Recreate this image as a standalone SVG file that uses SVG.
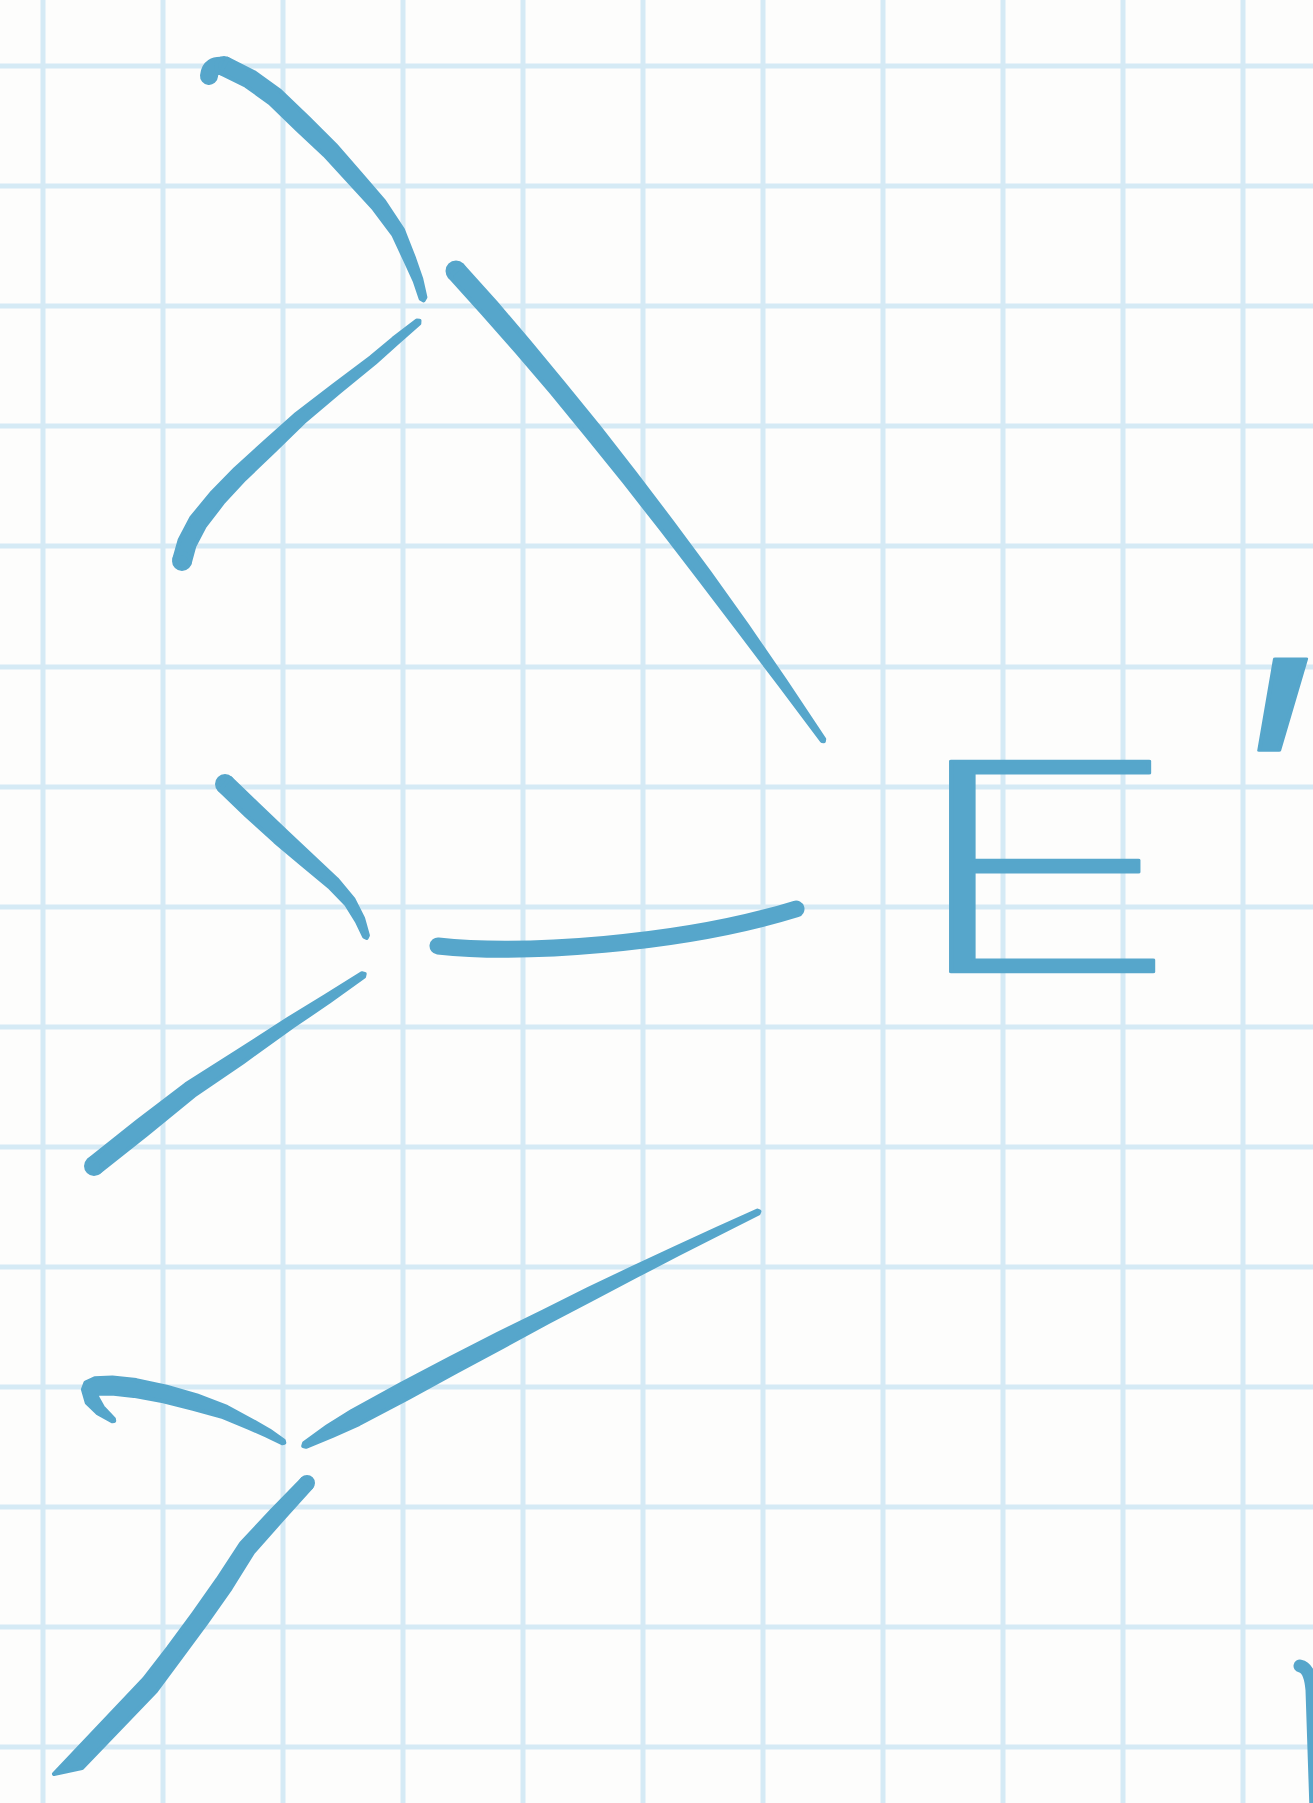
<svg xmlns="http://www.w3.org/2000/svg" width="1313" height="1803" viewBox="0 0 1313 1803">
<style>
.grid line{stroke:#d5eaf5;stroke-width:5}
.ink path{fill:none;stroke:#56a6cb;stroke-linecap:round;stroke-linejoin:round}
.ink polygon,.ink circle{fill:#56a6cb;stroke:#56a6cb;stroke-width:4;stroke-linejoin:round}
.lbl{font-family:Inter,"DejaVu Sans","Liberation Sans",sans-serif;font-weight:200;fill:#56a6cb;stroke:#56a6cb;stroke-width:2.5;stroke-linejoin:round}
</style>
<rect width="1313" height="1803" fill="#fdfdfc"/>
<g id="grid" class="grid">
<line x1="43" y1="0" x2="43" y2="1803"/><line x1="163" y1="0" x2="163" y2="1803"/><line x1="283" y1="0" x2="283" y2="1803"/><line x1="403" y1="0" x2="403" y2="1803"/><line x1="523" y1="0" x2="523" y2="1803"/><line x1="643" y1="0" x2="643" y2="1803"/><line x1="763" y1="0" x2="763" y2="1803"/><line x1="883" y1="0" x2="883" y2="1803"/><line x1="1003" y1="0" x2="1003" y2="1803"/><line x1="1123" y1="0" x2="1123" y2="1803"/><line x1="1243" y1="0" x2="1243" y2="1803"/>
<line x1="0" y1="66" x2="1313" y2="66"/><line x1="0" y1="186" x2="1313" y2="186"/><line x1="0" y1="306" x2="1313" y2="306"/><line x1="0" y1="426" x2="1313" y2="426"/><line x1="0" y1="546" x2="1313" y2="546"/><line x1="0" y1="667" x2="1313" y2="667"/><line x1="0" y1="787" x2="1313" y2="787"/><line x1="0" y1="907" x2="1313" y2="907"/><line x1="0" y1="1027" x2="1313" y2="1027"/><line x1="0" y1="1147" x2="1313" y2="1147"/><line x1="0" y1="1267" x2="1313" y2="1267"/><line x1="0" y1="1387" x2="1313" y2="1387"/><line x1="0" y1="1507" x2="1313" y2="1507"/><line x1="0" y1="1627" x2="1313" y2="1627"/><line x1="0" y1="1747" x2="1313" y2="1747"/>
</g>
<g id="connectors" class="ink">
<g id="s1">
<path stroke-width="18" d="M209,76 Q210,64 224,66"/>
<circle cx="224" cy="66" r="8"/>
<polygon points="220.4,73.2 245.8,85.8 269.8,103.1 297.4,129.8 324.6,155.2 349.8,182.7 373.9,209 393.2,234.7 405.8,261.7 414.7,281.1 420.6,298.7 423.7,300.4 425.4,297.3 421.3,278.9 414.2,258.3 402.8,229.3 384.1,201 360.2,173.3 335.4,144.8 308.6,118.2 280.2,90.9 254.2,72.2 227.6,58.8"/>
</g>
<g id="s2">
<circle cx="456" cy="271" r="8.5"/>
<polygon points="449.7,276.7 482.8,313.5 517,352.2 552.1,393.2 587.7,436.7 624.3,482.1 661.7,529.8 699.9,579.6 739.3,631.4 780,685.1 821.8,740.9 823.9,741.2 824.2,739.1 785.6,681.1 747.3,625.5 709.5,572.4 672.1,521.9 635.3,473.5 599.3,427.3 563.7,383.6 529.2,341.8 495.6,302.3 462.3,265.3"/>
</g>
<g id="s3">
<polygon points="419.5,320.7 416.7,320.5 393.1,338.7 370.8,357.3 333.2,385.5 296.4,413.8 265.6,441.2 235.1,469 212.4,492.1 191.4,517.5 179.6,540 174.3,558.9 189.7,563.1 194.4,546 204.6,526.5 223.6,501.9 244.9,479 274.4,450.8 303.6,422.2 338.8,392.5 375.2,362.7 396.9,343.3 419.3,323.5"/>
<circle cx="182" cy="561" r="8"/>
</g>
<g id="s4">
<circle cx="225" cy="784" r="8"/>
<polygon points="219.5,789.8 246.5,815.8 275,841.6 302.7,864.9 329.2,886.9 346.4,904.7 356.8,921.5 364.1,936.7 366.7,937.9 367.9,935.3 363.2,918.5 353.6,899.3 336.8,879.1 311.3,855.1 285,830.5 257.5,804.2 230.5,778.2"/>
</g>
<g id="s5">
<path stroke-width="17" d="M438,946 C520,955 680,945 796,909"/>
</g>
<g id="s6">
<polygon points="364.7,973.9 361.9,973.3 325.1,996.1 287.5,1019.3 236.7,1052 185.9,1084.3 137,1121.7 89,1159.7 99,1172.3 147,1134.3 194.1,1095.7 243.3,1062 292.5,1026.7 328.9,1001.9 364.1,976.7"/>
<circle cx="94" cy="1166" r="8"/>
</g>
<g id="s7">
<polygon points="759.4,1211.4 757.4,1210.6 716.8,1228.8 675,1248 632.1,1268.1 588,1289 543.1,1311.5 496.7,1334.3 449.4,1358.6 400.9,1383.9 351.8,1410.9 327.4,1426.2 304,1443.2 303.2,1446 306,1446.8 332.6,1435.8 359,1424.1 408.5,1397.9 456.4,1371.8 503.1,1346.7 548.5,1322.1 593,1298.8 636.1,1276.1 678,1254.2 719,1233.4 758.6,1213.4"/>
</g>
<g id="s8">
<polygon points="114.2,1420.9 113.9,1418.8 102.8,1407.1 97.2,1397.1 97.1,1394.5 99.3,1393.7 111.6,1393.5 133.7,1395.9 163.3,1401.3 193,1408.7 223,1417.1 248.3,1427.6 266.6,1435.6 282.2,1443.3 284.3,1442.8 283.8,1440.7 269.4,1430.4 251.8,1420.4 227,1406.9 197,1395.3 166.7,1386.7 136.3,1380.1 112.4,1377.5 94.7,1378.3 85.5,1382.5 82.9,1389.5 86.8,1402.9 97.2,1412.9 112.1,1421.2"/>
</g>
<g id="s9">
<circle cx="307" cy="1483" r="6"/>
<polygon points="302.6,1478.9 271.9,1510.3 241.1,1543.4 217.4,1579.5 193.5,1613.3 168.6,1647.2 144,1679 54,1774 82,1768 156,1691 181.4,1656.8 206.5,1622.7 230.6,1588.5 252.9,1552.6 282.1,1519.7 311.4,1487.1"/>
</g>
<g id="s10"><path stroke-width="13" d="M1300,1666 Q1310,1668 1312,1690 L1316,1810"/></g>
</g>
<g id="label">
<text class="lbl" transform="matrix(1.68,0,0,1,900,0)" x="0" y="972" font-size="290">E<tspan x="194" y="928" font-size="370" letter-spacing="-30">′</tspan></text>
</g>
</svg>
